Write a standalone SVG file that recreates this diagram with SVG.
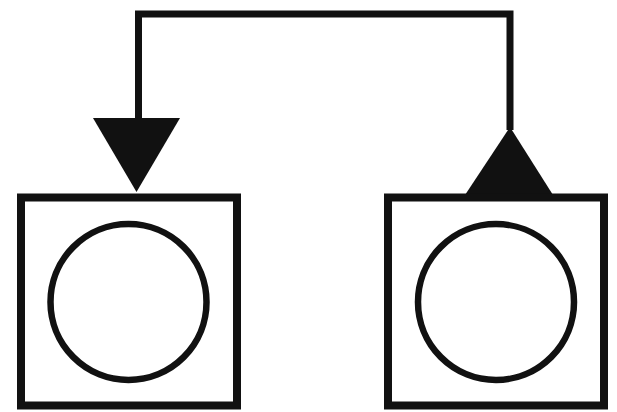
<svg xmlns="http://www.w3.org/2000/svg" width="617" height="412" viewBox="0 0 617 412">
  <style>
    .box { fill: #ffffff; stroke: #111111; stroke-width: 8; }
    .ring { fill: none; stroke: #111111; stroke-width: 6.5; }
    .wire { fill: none; stroke: #111111; stroke-width: 7; stroke-linejoin: miter; }
    .head { fill: #111111; stroke: none; }
  </style>
  <rect x="0" y="0" width="617" height="412" fill="#ffffff"/>
  <g id="connectors">
    <path class="wire" d="M510,130 V14 H138.5 V120"/>
    <polygon class="head" points="93,118 180,118 136.5,192"/>
    <polygon class="head" points="465,195 553,195 510,127"/>
  </g>
  <g id="node-left">
    <rect class="box" x="21" y="197.5" width="216" height="208"/>
    <circle class="ring" cx="128.5" cy="302" r="78"/>
  </g>
  <g id="node-right">
    <rect class="box" x="388" y="197.5" width="216" height="208"/>
    <circle class="ring" cx="496" cy="302" r="78"/>
  </g>
</svg>
